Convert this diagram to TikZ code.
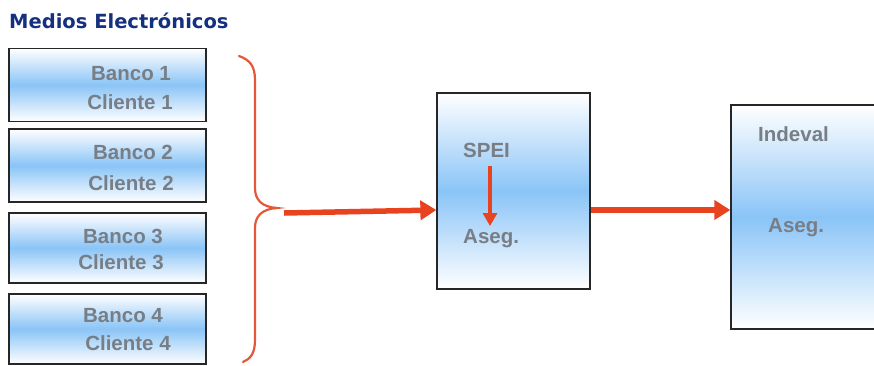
\documentclass[tikz,border=0pt]{standalone}
\usepackage{fontspec}
\setmainfont{Liberation Sans}
\newfontfamily\titlefont{DejaVu Sans}
\usetikzlibrary{arrows.meta}
\definecolor{boxblue}{RGB}{138,196,247}
\definecolor{arrowred}{RGB}{232,66,30}
\definecolor{bracered}{RGB}{228,88,55}
\definecolor{txtgray}{RGB}{120,126,134}
\definecolor{titleblue}{RGB}{22,48,128}
\tikzset{
  gbox/.style={draw=black!85, line width=1.3pt, top color=white, bottom color=white, middle color=boxblue, inner sep=0pt, minimum width=#1},
  lbl/.style={font=\bfseries\fontsize{20.5}{22}\selectfont, text=txtgray, inner sep=0pt},
  bigarrow/.style={draw=arrowred, line width=5.5pt, -{Triangle[length=16pt,width=19pt]}},
  smallarrow/.style={draw=arrowred, line width=4pt, -{Triangle[length=13pt,width=14pt]}},
}
\begin{document}
\begin{tikzpicture}[x=1pt,y=-1pt]
\useasboundingbox (0,0) rectangle (874,365);
\clip (0,0) rectangle (874,365);
% title
\node[anchor=west, inner sep=0pt, font=\titlefont\bfseries\fontsize{19.5}{21}\selectfont, text=titleblue] (title) at (9,21) {Medios Electrónicos};
% bank boxes
\node[gbox=197pt, minimum height=73pt] (b1) at (107.5,85) {};
\node[gbox=197pt, minimum height=73pt] (b2) at (107.5,165.5) {};
\node[gbox=197pt, minimum height=70pt] (b3) at (107.5,248) {};
\node[gbox=197pt, minimum height=70pt] (b4) at (107.5,329) {};
\node[lbl] (b1a) at (131,74) {Banco 1};
\node[lbl] (b1b) at (130,102) {Cliente 1};
\node[lbl] (b2a) at (133,152) {Banco 2};
\node[lbl] (b2b) at (131,183) {Cliente 2};
\node[lbl] (b3a) at (123,236) {Banco 3};
\node[lbl] (b3b) at (121,262) {Cliente 3};
\node[lbl] (b4a) at (123,316) {Banco 4};
\node[lbl] (b4b) at (128,343) {Cliente 4};
% brace
\draw[bracered, line width=2.2pt, line cap=round]
  (239,56) .. controls (250,60) and (255,66) .. (255,80)
  -- (255,188) .. controls (255,200) and (262,207) .. (277,208)
  .. controls (262,209) and (255,216) .. (255,228)
  -- (255,340) .. controls (255,354) and (250,359) .. (243,362);
\coordinate (tip) at (284,213);
% SPEI box
\node[gbox=153pt, minimum height=196pt] (spei) at (513.5,191) {};
\node[lbl, anchor=west] (speit) at (463,150) {SPEI};
\node[lbl, anchor=west] (spa) at (463,239) {Aseg.};
\coordinate (sp1) at (490,166);
\coordinate (sp2) at (490,226);
% Indeval box
\node[gbox=160pt, minimum height=224pt] (ind) at (811,217) {};
\node[lbl, anchor=west] (indt) at (758,134) {Indeval};
\node[lbl, anchor=west] (inda) at (768,228) {Aseg.};
% arrows
\draw[bigarrow] (tip) -- (spei.west |- 0,210);
\draw[bigarrow] (spei.east |- 0,210) -- (ind.west |- 0,210);
\draw[smallarrow] (sp1) -- (sp2);
\end{tikzpicture}
\end{document}
